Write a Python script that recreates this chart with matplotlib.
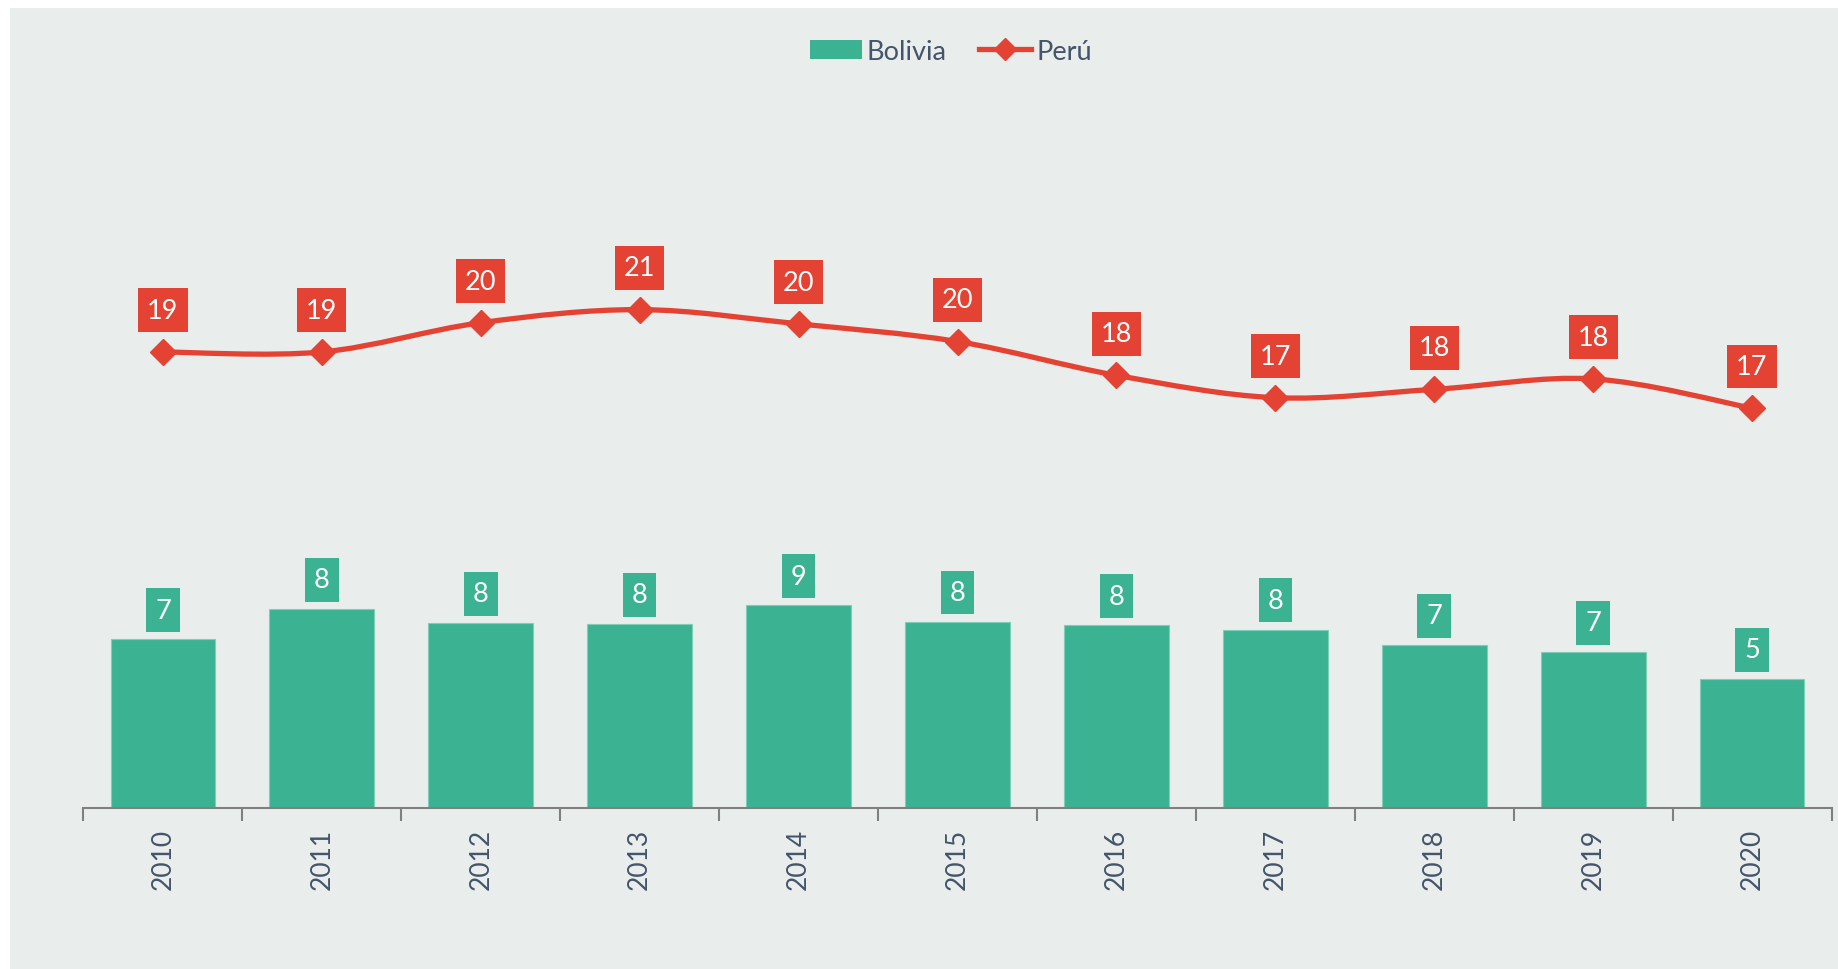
import numpy as np
import matplotlib.pyplot as plt
from matplotlib.path import Path
from matplotlib.patches import PathPatch, Rectangle
from matplotlib.lines import Line2D

years = ["2010", "2011", "2012", "2013", "2014", "2015", "2016", "2017", "2018", "2019", "2020"]
bolivia = [7.09, 8.37, 7.78, 7.73, 8.52, 7.83, 7.68, 7.5, 6.85, 6.55, 5.42]
peru = [19.16, 19.16, 20.39, 20.94, 20.34, 19.6, 18.18, 17.24, 17.59, 18.03, 16.8]

green = "#3BB393"
red = "#E44233"
txt = "#44546A"
bg = "#E9EDEC"

plt.rcParams['font.family'] = ['Lato', 'DejaVu Sans']


def smooth_path(x, y, tension=1/6):
    # catmull-rom style bezier through the points (like excel smoothed line)
    verts = [(x[0], y[0])]
    codes = [Path.MOVETO]
    n = len(x)
    for i in range(n - 1):
        x0, y0 = (x[i - 1], y[i - 1]) if i > 0 else (x[i], y[i])
        x3, y3 = (x[i + 2], y[i + 2]) if i + 2 < n else (x[i + 1], y[i + 1])
        c1 = (x[i] + (x[i + 1] - x0) * tension, y[i] + (y[i + 1] - y0) * tension)
        c2 = (x[i + 1] - (x3 - x[i]) * tension, y[i + 1] - (y3 - y[i]) * tension)
        verts += [c1, c2, (x[i + 1], y[i + 1])]
        codes += [Path.CURVE4] * 3
    return Path(verts, codes)


def label_box(x0, y0, width, height, mutation_size):
    # excel-like data label box: more room above/below than at the sides
    padx = 0.33 * mutation_size
    h = 1.62 * mutation_size
    cy = y0 + height * 0.5
    l, r = x0 - padx, x0 + width + padx
    b, t = cy - h / 2, cy + h / 2
    return Path([(l, b), (r, b), (r, t), (l, t), (l, b)], closed=True)


fig = plt.figure(figsize=(18.38, 9.7), dpi=100)
fig.patches.append(Rectangle((10 / 1838, 0), 1, 1 - 9 / 970, transform=fig.transFigure,
                             facecolor=bg, edgecolor='none', zorder=-10))

# baseline at y=809px, 23.8 px per unit
ax = fig.add_axes([0, 0, 1, 1])
ax.set_position([83.5 / 1838, (970 - 809) / 970, (1831.5 - 83.5) / 1838, 30 * 23.8 / 970])
ax.patch.set_alpha(0)

x = np.arange(len(years))
ax.bar(x, bolivia, width=0.66, color=green, edgecolor='#7fcfb8', linewidth=0.8, zorder=2)

ax.add_patch(PathPatch(smooth_path(x, peru), facecolor='none', edgecolor=red, lw=3.8,
                       capstyle='round', zorder=3))
ax.plot(x, peru, linestyle='none', marker='D', ms=13, color=red, zorder=4)

for i in range(len(years)):
    ax.annotate(f"{bolivia[i]:.0f}", (x[i], bolivia[i]), xytext=(0, 21), textcoords='offset points',
                ha='center', va='center', fontsize=19.5, color='white',
                bbox=dict(boxstyle=label_box, facecolor=green, edgecolor='none'), zorder=5)
    ax.annotate(f"{peru[i]:.0f}", (x[i], peru[i]), xytext=(0, 30), textcoords='offset points',
                ha='center', va='center', fontsize=19.5, color='white',
                bbox=dict(boxstyle=label_box, facecolor=red, edgecolor='none'), zorder=5)

ax.set_xlim(-0.5, len(years) - 0.5)
ax.set_ylim(0, 30)
ax.set_yticks([])
for s in ['top', 'right', 'left']:
    ax.spines[s].set_visible(False)
ax.spines['bottom'].set_color('#808080')
ax.spines['bottom'].set_linewidth(1.5)
ax.set_xticks(x)
ax.set_xticklabels(years, rotation=90, fontsize=19, color=txt)
ax.set_xticks(np.arange(-0.5, len(years), 1), minor=True)
ax.tick_params(axis='x', which='major', length=0, pad=14)
ax.tick_params(axis='x', which='minor', length=9, width=1.5, color='#808080', direction='out')

handles = [Rectangle((0, 0), 1, 1, facecolor=green, edgecolor='none'),
           Line2D([], [], color=red, lw=3.8, marker='D', ms=11)]
fig.legend(handles, ["Bolivia", "Perú"], loc='center', bbox_to_anchor=(951 / 1838, 1 - 52 / 970),
           ncol=2, frameon=False, fontsize=19.5, labelcolor=txt, handlelength=1.9,
           handletextpad=0.2, columnspacing=1.2)

plt.savefig("out.png", dpi=100)
